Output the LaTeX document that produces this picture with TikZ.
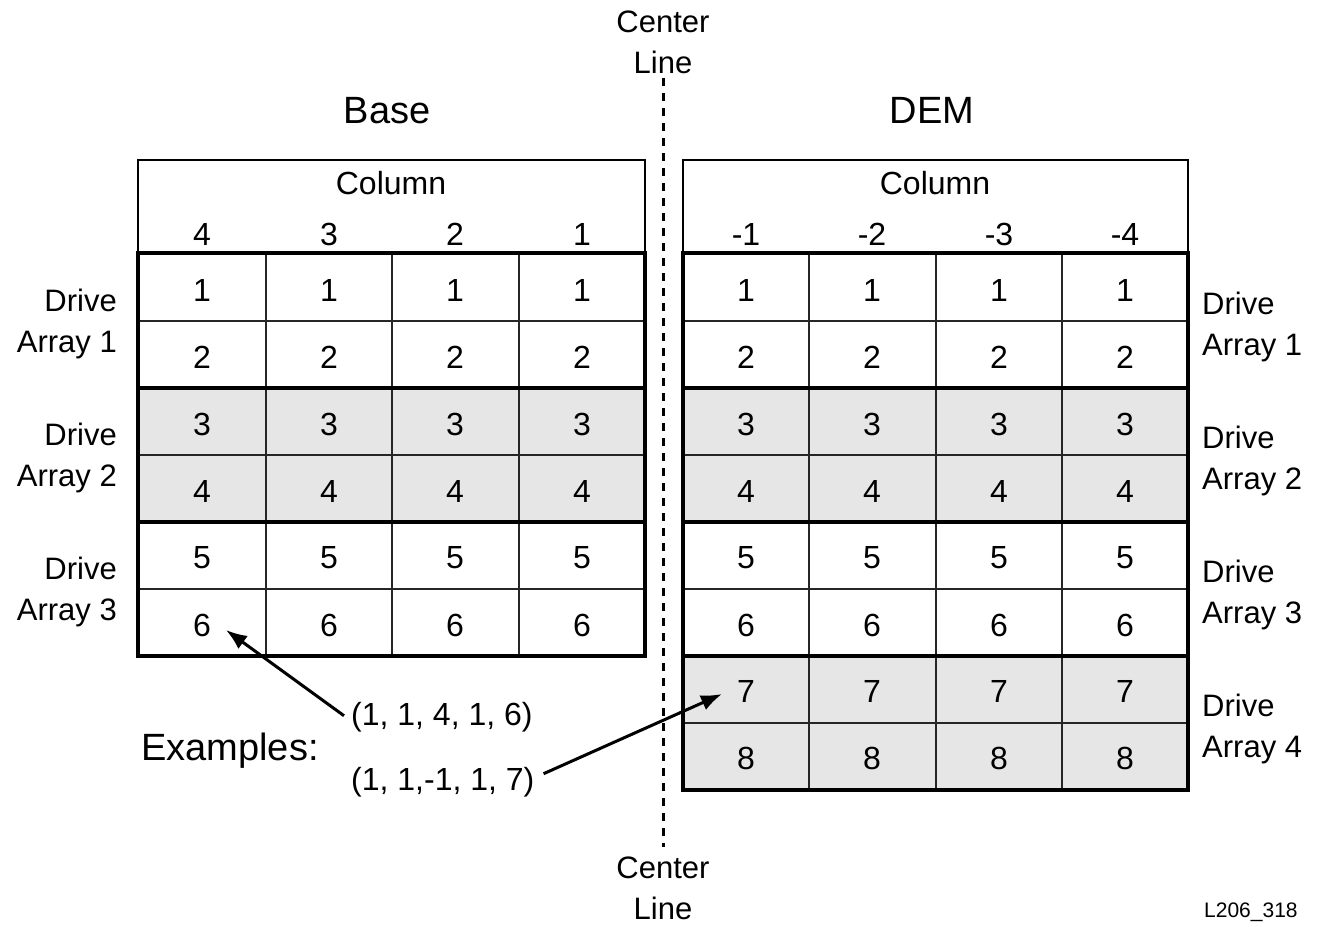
\documentclass[tikz,border=0pt]{standalone}
\usepackage{fontspec}
\setmainfont{Liberation Sans}
\usetikzlibrary{arrows.meta}
\definecolor{shadegray}{HTML}{E6E6E6}
\newcommand\fnumb{\fontsize{32}{38}\selectfont}
\newcommand\flabl{\fontsize{31}{41}\selectfont}
\newcommand\ftitl{\fontsize{38}{44}\selectfont}
\newcommand\fsmal{\fontsize{21}{25}\selectfont}
\begin{document}
\begin{tikzpicture}[x=1pt,y=-1pt,
  num/.style={font=\fnumb, inner sep=0pt},
  lablL/.style={font=\flabl, align=right, anchor=north east, inner sep=0pt},
  lablR/.style={font=\flabl, align=left, anchor=north west, inner sep=0pt},
  titl/.style={font=\ftitl, anchor=base, inner sep=0pt},
  cline/.style={font=\flabl, align=center, anchor=north, inner sep=0pt},
  thinln/.style={line width=2.5pt, black!85},
  thickln/.style={line width=4.5pt, black},
  headbox/.style={line width=2.5pt, black},
  arr/.style={line width=3pt, -{Latex[length=21pt,width=16pt]}},
  dashln/.style={line width=3pt, dash pattern=on 8pt off 7pt}
]
\useasboundingbox (0,0) rectangle (1322,926);

% shaded rows
\fill[shadegray] (138,388) rectangle (645,522);
\fill[shadegray] (683,388) rectangle (1188,522);
\fill[shadegray] (683,656) rectangle (1188,790);

% header boxes
\draw[headbox] (138,160) rectangle (645,253);
\draw[headbox] (683,160) rectangle (1188,253);

% thin grid, left table
\foreach \yy in {321,455,589} \draw[thinln] (138,\yy) -- (645,\yy);
\foreach \xx in {266,392,519} \draw[thinln] (\xx,253) -- (\xx,656);
% thin grid, right table
\foreach \yy in {321,455,589,723} \draw[thinln] (683,\yy) -- (1188,\yy);
\foreach \xx in {809,936,1062} \draw[thinln] (\xx,253) -- (\xx,790);

% thick borders
\draw[thickln] (138,253) rectangle (645,656);
\foreach \yy in {388,522} \draw[thickln] (138,\yy) -- (645,\yy);
\draw[thickln] (683,253) rectangle (1188,790);
\foreach \yy in {388,522,656} \draw[thickln] (683,\yy) -- (1188,\yy);

% titles
\node[titl] (base) at (387,123) {Base};
\node[titl] (dem) at (932,123) {DEM};

% column headers
\node[num] (colL) at (391,183) {Column};
\node[num] (colR) at (935,183) {Column};
\foreach \lab/\xx/\i in {4/202/1,3/329/2,2/455/3,1/582/4}
  \node[num] (hb\i) at (\xx,234) {\lab};
\foreach \lab/\xx/\i in {-1/746/1,-2/872/2,-3/999/3,-4/1125/4}
  \node[num] (hd\i) at (\xx,234) {\lab};

% cell numbers
\foreach \r/\yy in {1/290,2/357,3/424,4/491,5/558,6/625} {
  \foreach \xx/\i in {202/1,329/2,455/3,582/4}
    \node[num] (b\r c\i) at (\xx,\yy) {\r};
}
\foreach \r/\yy in {1/290,2/357,3/424,4/491,5/558,6/625,7/691,8/758} {
  \foreach \xx/\i in {746/1,872/2,999/3,1125/4}
    \node[num] (d\r c\i) at (\xx,\yy) {\r};
}

% drive array labels
\node[lablL] (dl1) at (117,289) {Drive\\Array 1};
\node[lablL] (dl2) at (117,423) {Drive\\Array 2};
\node[lablL] (dl3) at (117,557) {Drive\\Array 3};
\node[lablR] (dr1) at (1202,292) {Drive\\Array 1};
\node[lablR] (dr2) at (1202,426) {Drive\\Array 2};
\node[lablR] (dr3) at (1202,560) {Drive\\Array 3};
\node[lablR] (dr4) at (1202,694) {Drive\\Array 4};

% center line
\node[cline] (cltop) at (663,11) {Center\\Line};
\node[cline] (clbot) at (663,857) {Center\\Line};
\path (cltop.south) ++(0,4) coordinate (cla);
\path (clbot.north) ++(0,-10) coordinate (clb);
\draw[dashln] (cla) -- (clb);

% examples
\node[titl, anchor=base west] (exlab) at (141,760) {Examples:};
\node[num, anchor=base west] (ex1) at (351,725) {(1, 1, 4, 1, 6)};
\node[num, anchor=base west] (ex2) at (351,790) {(1, 1,-1, 1, 7)};

\draw[arr] ([shift={(-7,-1)}]ex1.west) -- ([shift={(24,5)}]b6c1.center);
\draw[arr] ([shift={(9,-8)}]ex2.east) -- ([shift={(-24,3)}]d7c1.center);

% figure id
\node[font=\fsmal, anchor=base west, inner sep=0pt] (fid) at (1204,917) {L206\_318};
\end{tikzpicture}
\end{document}
